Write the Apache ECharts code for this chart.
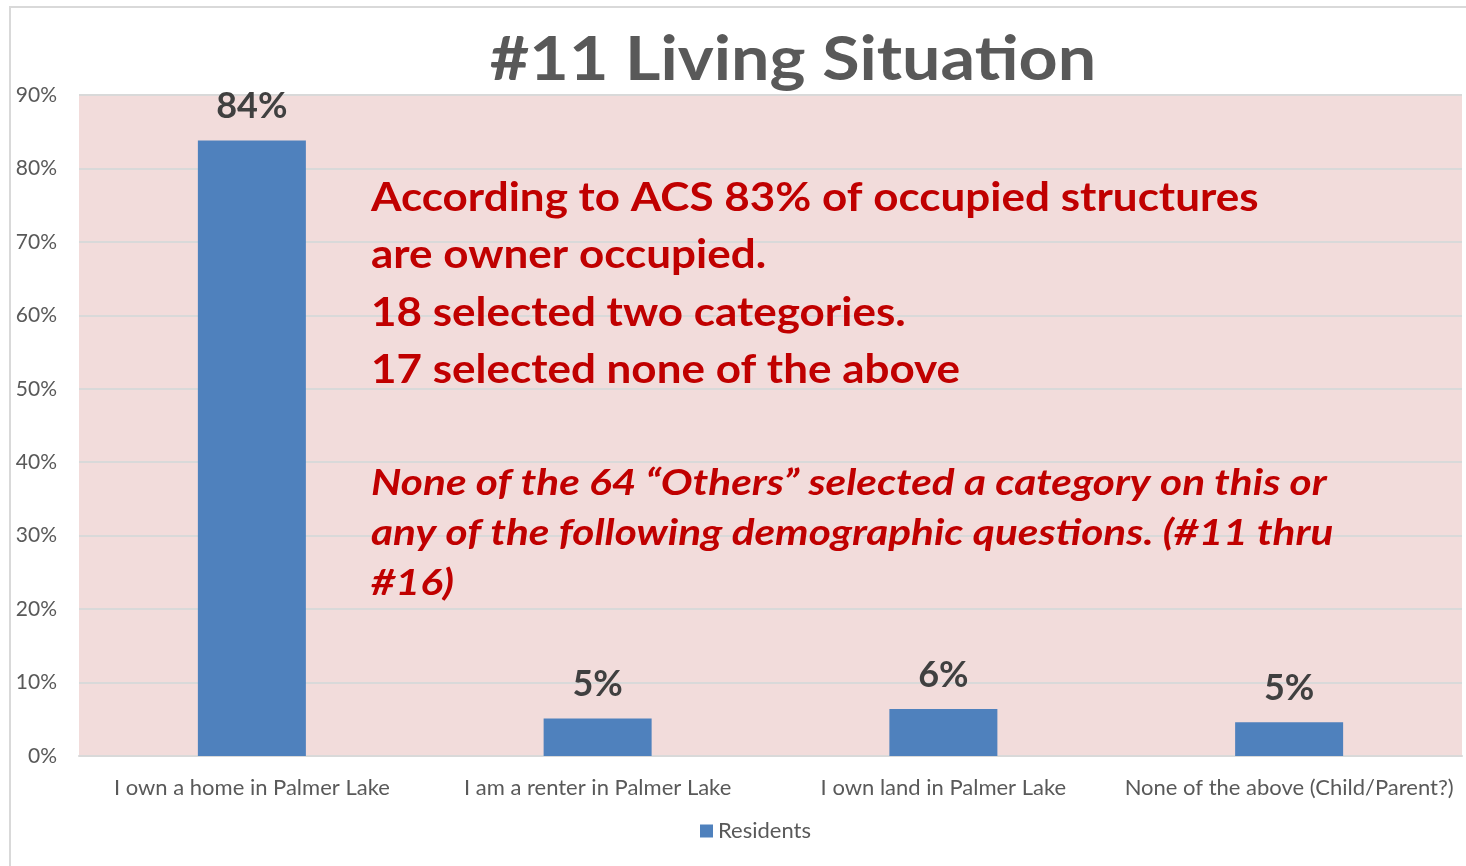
<!DOCTYPE html>
<html>
<head>
<meta charset="utf-8">
<script src="https://cdn.jsdelivr.net/npm/echarts@6/dist/echarts.min.js"></script>
<style>
  html, body { margin: 0; padding: 0; background: #fff; }
  #chart { width: 1466px; height: 866px; }
</style>
</head>
<body>
<div id="chart"></div>
<script>
  // data
  var categories = ['I own a home in Palmer Lake', 'I am a renter in Palmer Lake', 'I own land in Palmer Lake', 'None of the above (Child/Parent?)'];
  var residents = [83.8, 5.1, 6.4, 4.6];
  var yTicks = [0, 10, 20, 30, 40, 50, 60, 70, 80, 90];

  var titleText = '#11 Living Situation';
  var noteLines = [
    'According to ACS 83% of occupied structures',
    'are owner occupied.',
    '18 selected two categories.',
    '17 selected none of the above'
  ];
  var noteItalic = [
    'None of the 64 \u201cOthers\u201d selected a category on this or',
    'any of the following demographic questions. (#11 thru',
    '#16)'
  ];

  var font = 'Lato, "Open Sans", sans-serif';
  var chart = echarts.init(document.getElementById('chart'));

  // frame + title + red notes (the original text is a bit wider than Lato, hence scaleX)
  var graphics = [{
    type: 'rect',
    shape: { x: 10, y: 7, width: 1500, height: 900 },
    style: { fill: 'none', stroke: '#d9d9d9', lineWidth: 2 },
    z: 0
  }, {
    type: 'text', x: 793, y: 60, scaleX: 1.1, z: 100,
    style: { text: titleText, fill: '#595959', font: 'bold 62px ' + font, align: 'center', verticalAlign: 'middle' }
  }];
  noteLines.forEach(function (t, i) {
    graphics.push({
      type: 'text', x: 371, y: 198 + i * 57.5, scaleX: 1.1, z: 100,
      style: { text: t, fill: '#C00000', font: 'bold 40px ' + font, verticalAlign: 'middle' }
    });
  });
  noteItalic.forEach(function (t, i) {
    graphics.push({
      type: 'text', x: 371, y: 483 + i * 50, scaleX: 1.145, z: 100,
      style: { text: t, fill: '#C00000', font: 'italic bold 37px ' + font, verticalAlign: 'middle' }
    });
  });

  chart.setOption({
    animation: false,
    legend: {
      bottom: 19, left: 695,
      itemWidth: 13, itemHeight: 13, itemGap: 7,
      icon: 'rect',
      textStyle: { fontFamily: font, fontSize: 22, color: '#595959' },
      data: ['Residents']
    },
    grid: {
      left: 79, right: 4, top: 95, bottom: 110,
      show: true, backgroundColor: '#F2DCDB', borderWidth: 0
    },
    xAxis: {
      type: 'category',
      data: categories,
      axisLine: { lineStyle: { color: '#d9d9d9', width: 2 } },
      axisTick: { show: false },
      axisLabel: { fontFamily: font, fontSize: 22, color: '#595959', margin: 21, interval: 0 }
    },
    yAxis: {
      type: 'value',
      min: yTicks[0], max: yTicks[yTicks.length - 1], interval: 10,
      axisLine: { show: false },
      axisTick: { show: false },
      axisLabel: { fontFamily: font, fontSize: 21, color: '#595959', margin: 22, formatter: '{value}%' },
      splitLine: { lineStyle: { color: '#d9d9d9', width: 2 } }
    },
    series: [{
      name: 'Residents',
      type: 'bar',
      data: residents,
      barWidth: 108,
      itemStyle: { color: '#4F81BD' },
      label: {
        show: true, position: 'top', distance: 16,
        fontFamily: font, fontSize: 36, fontWeight: 'bold', color: '#404040',
        formatter: function (p) { return Math.round(p.value) + '%'; }
      }
    }],
    graphic: graphics
  });
</script>
</body>
</html>
